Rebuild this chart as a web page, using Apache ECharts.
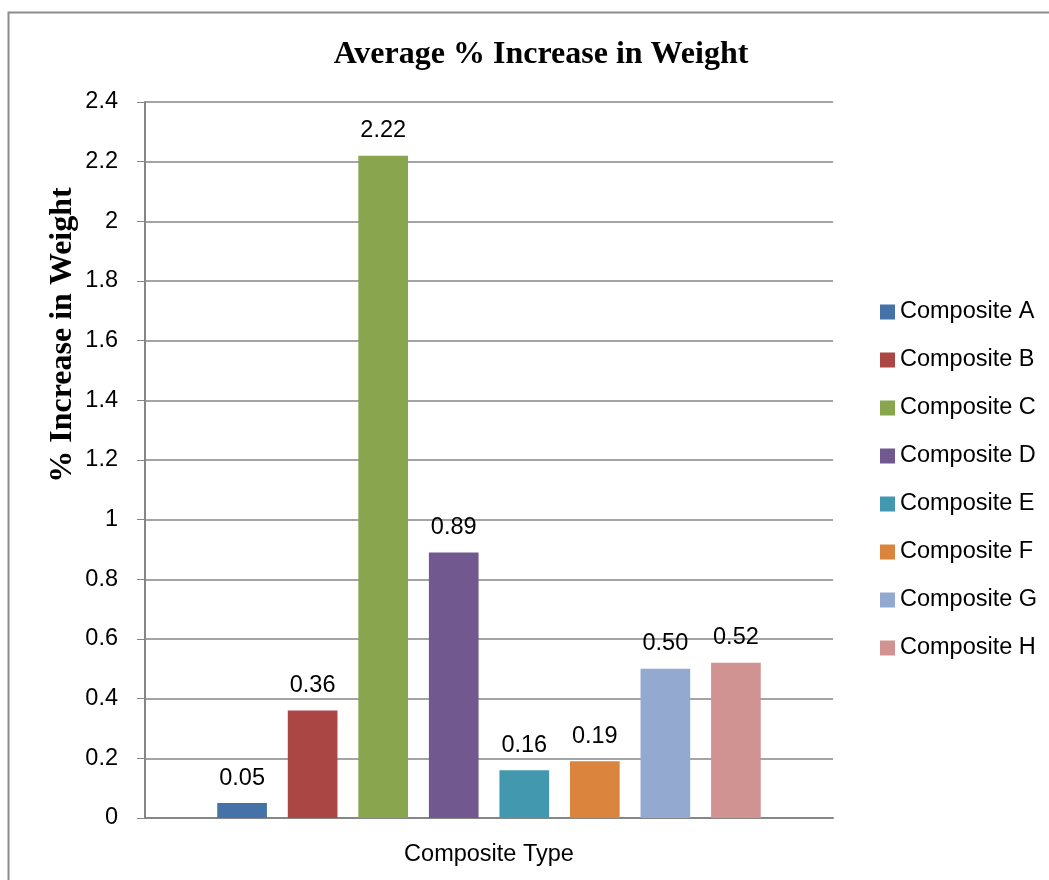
<!DOCTYPE html>
<html>
<head>
<meta charset="utf-8">
<script src="https://cdn.jsdelivr.net/npm/echarts@6/dist/echarts.min.js"></script>
<style>
  html, body { margin: 0; padding: 0; background: #fff; }
  #chart { width: 1049px; height: 880px; }
</style>
</head>
<body>
<div id="chart"></div>
<script>
var categories = ['Composite Type'];
var seriesNames = ['Composite A', 'Composite B', 'Composite C', 'Composite D',
                   'Composite E', 'Composite F', 'Composite G', 'Composite H'];
var seriesValues = [0.05, 0.36, 2.22, 0.89, 0.16, 0.19, 0.50, 0.52];
var colors = ['#4572A7', '#AA4643', '#89A54E', '#71588F', '#4198AF', '#DB843D', '#93A9CF', '#D19392'];

var sans = 'Liberation Sans';
var serif = 'Liberation Serif';
var fs = 23.5;

var chart = echarts.init(document.getElementById('chart'));

var series = seriesNames.map(function (name, i) {
    return {
        name: name,
        type: 'bar',
        data: [seriesValues[i]],
        itemStyle: { color: colors[i] },
        barGap: '42%',
        barCategoryGap: '21%',
        label: {
            show: true,
            position: 'top',
            distance: 13,
            color: '#000',
            fontFamily: sans,
            fontSize: fs,
            formatter: function (p) { return p.value.toFixed(2); }
        }
    };
});

chart.setOption({
    animation: false,
    color: colors,
    title: {
        text: 'Average % Increase in Weight',
        left: 536,
        top: 34,
        textAlign: 'center',
        textStyle: { fontFamily: serif, fontWeight: 'bold', fontSize: 32, color: '#000' }
    },
    graphic: [
        {
            type: 'rect',
            shape: { x: 8.5, y: 12.5, width: 1100, height: 900 },
            style: { fill: 'none', stroke: '#8c8c8c', lineWidth: 2 },
            z: -10
        },
        {
            type: 'text',
            x: 63,
            y: 335,
            rotation: Math.PI / 2,
            style: {
                text: '% Increase in Weight',
                fontFamily: serif,
                fontWeight: 'bold',
                fontSize: 32,
                fill: '#000',
                align: 'center',
                verticalAlign: 'middle'
            }
        }
    ],
    legend: {
        orient: 'vertical',
        left: 875,
        top: 295,
        itemWidth: 15,
        itemHeight: 15,
        itemGap: 24,
        icon: 'rect',
        textStyle: { fontFamily: sans, fontSize: fs, color: '#000' },
        data: seriesNames
    },
    grid: { left: 145, right: 216, top: 102, bottom: 62 },
    xAxis: {
        type: 'category',
        data: categories,
        axisLine: { lineStyle: { color: '#868686', width: 2 } },
        axisTick: { show: false },
        axisLabel: { margin: 25, fontFamily: sans, fontSize: fs, color: '#000' }
    },
    yAxis: {
        type: 'value',
        min: 0,
        max: 2.4,
        interval: 0.2,
        axisLine: { show: true, lineStyle: { color: '#868686', width: 2 } },
        axisTick: { show: true, length: 8, lineStyle: { color: '#868686' } },
        splitLine: { lineStyle: { color: '#868686', width: 1.5 } },
        axisLabel: {
            margin: 27,
            fontFamily: sans,
            fontSize: fs,
            color: '#000',
            formatter: function (v) { return String(Math.round(v * 10) / 10); }
        }
    },
    series: series
});
</script>
</body>
</html>
